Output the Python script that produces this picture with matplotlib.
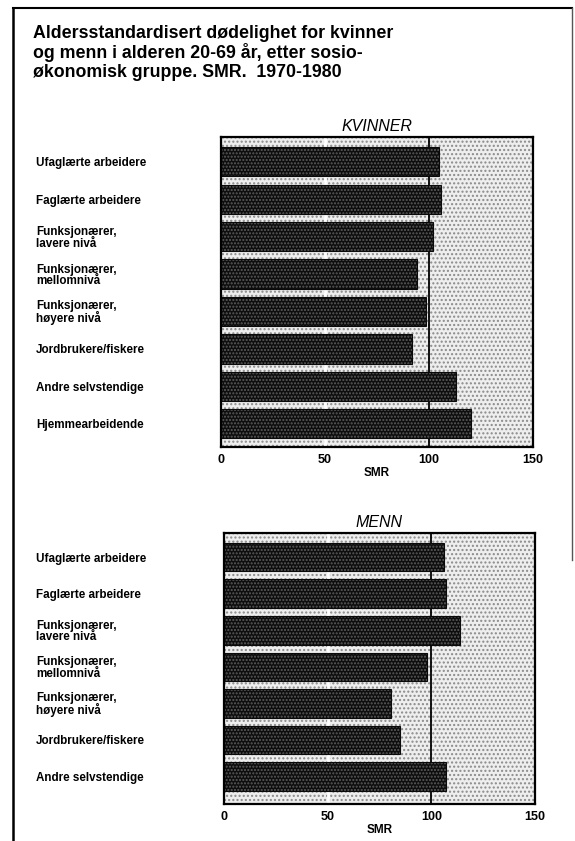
import matplotlib.pyplot as plt
from matplotlib.lines import Line2D
from matplotlib.patches import Rectangle

TITLE = ("Aldersstandardisert dødelighet for kvinner\n"
         "og menn i alderen 20-69 år, etter sosio-\n"
         "økonomisk gruppe. SMR.  1970-1980")

GRUPPER_KVINNER = [
    "Ufaglærte arbeidere",
    "Faglærte arbeidere",
    "Funksjonærer,\nlavere nivå",
    "Funksjonærer,\nmellomnivå",
    "Funksjonærer,\nhøyere nivå",
    "Jordbrukere/fiskere",
    "Andre selvstendige",
    "Hjemmearbeidende",
]
SMR_KVINNER = [105, 106, 102, 94, 98.5, 92, 113, 120]

GRUPPER_MENN = GRUPPER_KVINNER[:7]
SMR_MENN = [106, 107, 114, 98, 80.5, 85, 107]

TICKS = [0, 50, 100, 150]

W, H = 575, 841
FONT = "Liberation Sans"


def tegn_panel(fig, rect, tittel, grupper, verdier, ymax):
    ax = fig.add_axes(rect)
    ax.set_facecolor("white")
    # stippled background
    ax.add_patch(Rectangle((0, 0), 1, 1, transform=ax.transAxes, facecolor="#eeeeee",
                           hatch="....", edgecolor="#8a8a8a", linewidth=0, zorder=0))
    ax.axvline(50, color="white", linewidth=2.0, zorder=1)
    ax.axvline(100, color="black", linewidth=1.3, zorder=1)

    y = list(range(len(verdier)))
    ax.barh(y, verdier, height=0.78, color="#0e0e0e", hatch=".....",
            edgecolor="#5c5c5c", linewidth=0, zorder=2)
    ax.barh(y, verdier, height=0.78, fill=False, edgecolor="#0a0a0a",
            linewidth=0.8, zorder=3)

    ax.set_xlim(0, 150)
    ax.set_ylim(ymax, -0.66)
    ax.set_xticks(TICKS)
    ax.set_xticklabels([str(t) for t in TICKS], fontsize=9, fontweight="bold", family=FONT)
    ax.set_yticks(y)
    pad = (rect[0] * W - 36) * 72 / 100
    ax.set_yticklabels(grupper, fontsize=8.4, fontweight="bold", family=FONT,
                       ha="left", linespacing=0.95)
    ax.tick_params(axis="y", length=0, pad=pad)
    ax.tick_params(axis="x", length=0, pad=5)
    ax.set_xlabel("SMR", fontsize=8.5, fontweight="bold", family=FONT, labelpad=1)
    ax.set_title(tittel, fontsize=11.5, style="italic", family=FONT, pad=4)
    for s in ax.spines.values():
        s.set_linewidth(1.6)
        s.set_color("black")
        s.set_zorder(4)
    return ax


def main():
    fig = plt.figure(figsize=(W / 100, H / 100), dpi=100)

    fig.text(33 / W, 1 - 25 / H, TITLE, fontsize=12.8, fontweight="bold", family=FONT,
             ha="left", va="top", linespacing=1.1)

    tegn_panel(fig, [221 / W, 1 - 447 / H, 312 / W, 310 / H], "KVINNER",
               GRUPPER_KVINNER, SMR_KVINNER, 7.62)
    tegn_panel(fig, [224 / W, 1 - 804 / H, 311 / W, 271 / H], "MENN",
               GRUPPER_MENN, SMR_MENN, 6.75)

    # outer frame
    top = 1 - 8 / H
    fig.add_artist(Line2D([13 / W, 13 / W], [0, top], color="black", linewidth=1.8))
    fig.add_artist(Line2D([13 / W, 572 / W], [top, top], color="black", linewidth=1.5))
    fig.add_artist(Line2D([572 / W, 572 / W], [top, 1 - 560 / H], color="#555555",
                          linewidth=1.0))

    fig.savefig("out.png", dpi=100)


if __name__ == "__main__":
    main()
